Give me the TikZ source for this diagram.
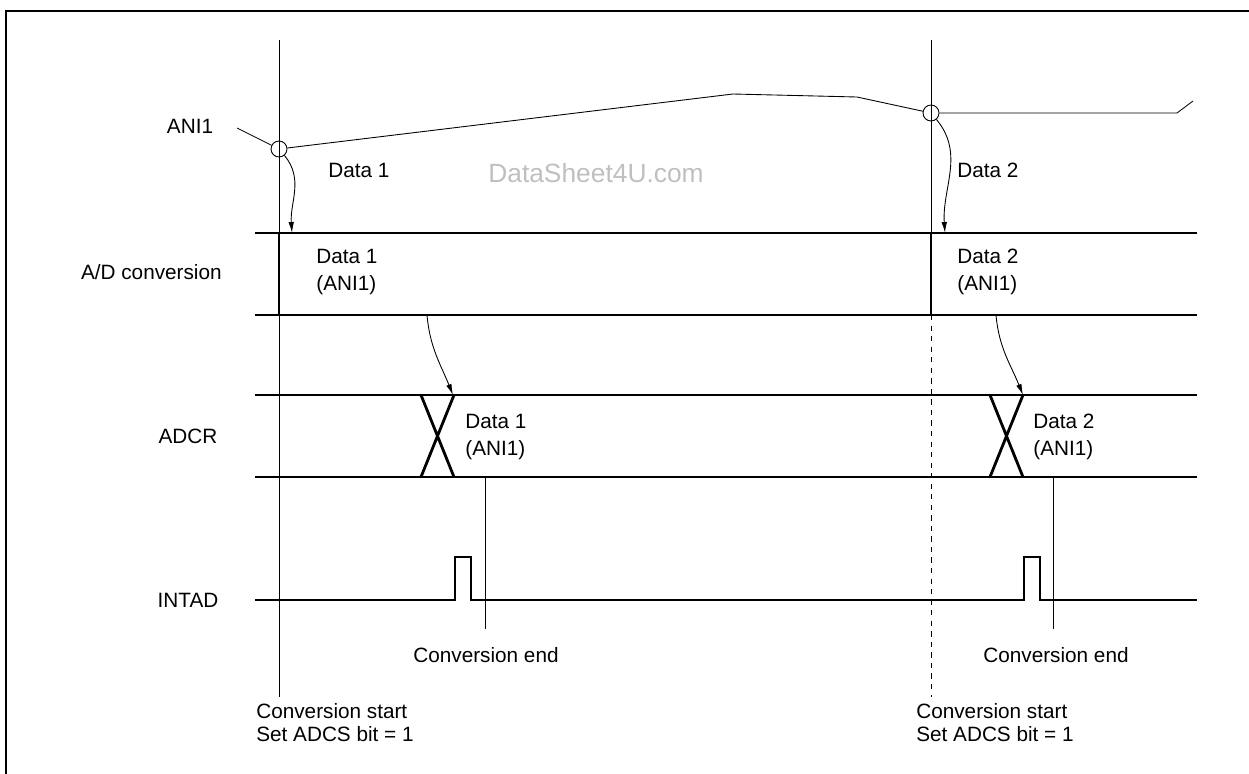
\documentclass[tikz,border=0pt]{standalone}
\usepackage{fontspec}
\setmainfont{Liberation Sans}
\usetikzlibrary{arrows.meta,positioning,calc}
\tikzset{
  frame/.style={line width=1.4pt},
  guide/.style={line width=0.5pt},
  sig/.style={line width=1.6pt},
  arr/.style={-{Latex[length=2.2mm,width=1.1mm]},line width=0.5pt},
  ring/.style={circle,draw,line width=0.5pt,minimum size=0.32cm,inner sep=0pt},
  lbl/.style={inner sep=0pt,font=\fontsize{11.8}{13}\selectfont},
  rowlbl/.style={lbl},
  twolbl/.style={lbl,align=left,font=\fontsize{11.8}{15.3}\selectfont},
  stlbl/.style={lbl,align=left},
  wmark/.style={inner sep=0pt,text=black!25,font=\fontsize{15}{17}\selectfont},
}
\begin{document}
\begin{tikzpicture}[x=0.02cm,y=-0.02cm]
  \useasboundingbox (0,0) rectangle (1249,774);
  \draw[frame] (1249,11) -- (6,11) -- (6,774);
  % row names
  \node[rowlbl] (ani) at (190,126) {ANI1};
  \node[rowlbl,anchor=east] (adc) at (222,272) {A/D conversion};
  \node[rowlbl] (adcr) at (188,436) {ADCR};
  \node[rowlbl] (intad) at (188,600) {INTAD};
  % conversion start marks
  \coordinate (s1t) at (279,40);  \coordinate (s1b) at (279,697);
  \coordinate (s2t) at (931,40);  \coordinate (s2m) at (931,315);
  \coordinate (s2b) at (931,697);
  \draw[guide] (s1t) -- (s1b);
  \draw[guide] (s2t) -- (s2m);
  \draw[guide,dashed] (s2m) -- (s2b);
  % analog input
  \node[ring] (p1) at (279,149) {};
  \node[ring] (p2) at (931,113) {};
  \coordinate (w0) at (237,128);
  \coordinate (w1) at (733,94);
  \coordinate (w2) at (857,97);
  \coordinate (w3) at (1177,113);
  \coordinate (w4) at (1193,101);
  \draw[guide] (w0) -- (p1) -- (w1) -- (w2) -- (p2) -- (w3) -- (w4);
  \node[lbl,anchor=west] (d1) at (328,170) {Data 1};
  \node[wmark] (wm) at (596,173) {DataSheet4U.com};
  \node[lbl,anchor=west] (d2) at (957,170) {Data 2};
  % A/D conversion
  \draw[sig] (255,233) -- (1197,233);
  \draw[sig] (255,315) -- (1197,315);
  \draw[sig] (279,233) -- (279,315);
  \draw[sig] (931,233) -- (931,315);
  \coordinate (a1) at (292,233);
  \coordinate (a2) at (945,233);
  \draw[arr] (p1.-50) to[out=-50,in=94] (a1);
  \draw[arr] (p2.-50) to[out=-50,in=94] (a2);
  \node[twolbl,anchor=west] (ad1) at (316,272) {Data 1\\(ANI1)};
  \node[twolbl,anchor=west] (ad2) at (957,272) {Data 2\\(ANI1)};
  % ADCR
  \draw[sig] (255,395) -- (1197,395);
  \draw[sig] (255,477) -- (1197,477);
  \draw[sig] (421,395) -- (454,477) (421,477) -- (454,395);
  \draw[sig] (990,395) -- (1023,477) (990,477) -- (1023,395);
  \coordinate (b1) at (427,315);  \coordinate (c1) at (453,395);
  \coordinate (b2) at (996,315);  \coordinate (c2) at (1023,395);
  \draw[arr] (b1) to[out=-85,in=112] (c1);
  \draw[arr] (b2) to[out=-85,in=112] (c2);
  \node[twolbl,anchor=west] (cr1) at (465,437) {Data 1\\(ANI1)};
  \node[twolbl,anchor=west] (cr2) at (1033,437) {Data 2\\(ANI1)};
  % INTAD
  \draw[sig] (255,600) -- (455,600) -- (455,557) -- (471,557) -- (471,600)
    -- (1024,600) -- (1024,557) -- (1040,557) -- (1040,600) -- (1197,600);
  \coordinate (e1t) at (485,477);  \coordinate (e1b) at (485,629);
  \coordinate (e2t) at (1053,477); \coordinate (e2b) at (1053,629);
  \draw[guide] (e1t) -- (e1b);
  \draw[guide] (e2t) -- (e2b);
  \node[lbl] (ce1) at (486,655) {Conversion end};
  \node[lbl] (ce2) at (1056,655) {Conversion end};
  \node[stlbl,anchor=west] (cs1) at (256,723) {Conversion start\\Set ADCS bit = 1};
  \node[stlbl,anchor=west] (cs2) at (916,723) {Conversion start\\Set ADCS bit = 1};
\end{tikzpicture}
\end{document}
